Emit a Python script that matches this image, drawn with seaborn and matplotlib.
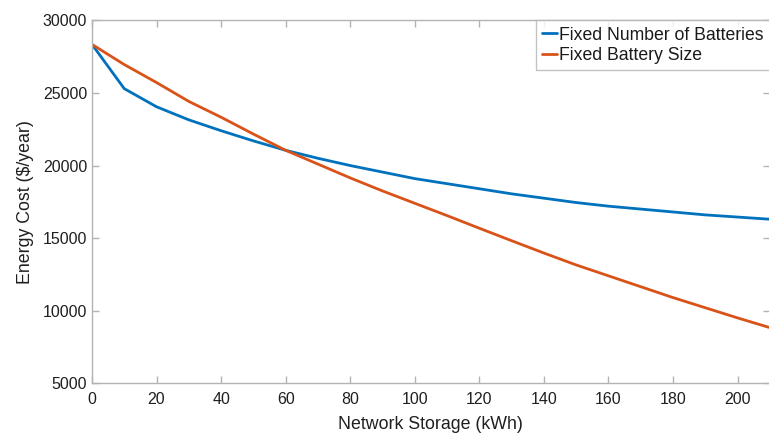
import numpy as np
import pandas as pd
import matplotlib
matplotlib.use("Agg")
import matplotlib.pyplot as plt
import seaborn as sns

storage_kwh = [0, 10, 20, 30, 40, 50, 60, 70, 80, 90, 100, 110, 120, 130, 140,
               150, 160, 170, 180, 190, 200, 210]
fixed_number = [28350, 25300, 24050, 23150, 22400, 21700, 21050, 20500, 20000,
                19550, 19100, 18750, 18400, 18050, 17750, 17450, 17200, 17000,
                16800, 16600, 16450, 16300]
fixed_size = [28350, 26960, 25720, 24420, 23330, 22170, 21050, 20100, 19150,
              18250, 17400, 16550, 15680, 14820, 13970, 13150, 12400, 11650,
              10900, 10200, 9500, 8830]
series_names = ["Fixed Number of Batteries", "Fixed Battery Size"]
x_ticks = [0, 20, 40, 60, 80, 100, 120, 140, 160, 180, 200]
y_ticks = [5000, 10000, 15000, 20000, 25000, 30000]

df = pd.DataFrame({
    "storage": storage_kwh * 2,
    "cost": fixed_number + fixed_size,
    "series": [series_names[0]] * len(storage_kwh) + [series_names[1]] * len(storage_kwh),
})

sns.set_theme(style="white")
plt.rcParams["font.family"] = ["Liberation Sans", "DejaVu Sans"]

fig = plt.figure(figsize=(7.69, 4.33), dpi=100)
ax = fig.add_axes([0.1196, 0.115, 0.8815, 0.8378])

sns.lineplot(data=df, x="storage", y="cost", hue="series",
             palette=["#0072BD", "#D95319"], linewidth=2.0, ax=ax,
             legend=True)

ax.set_xlim(0, 210)
ax.set_ylim(5000, 30000)
ax.set_xticks(x_ticks)
ax.set_yticks(y_ticks)
ax.set_xticklabels([str(t) for t in x_ticks])
ax.set_yticklabels([str(t) for t in y_ticks])

spine_color = "#b3b3b3"
for s in ax.spines.values():
    s.set_visible(True)
    s.set_color(spine_color)
    s.set_linewidth(1.0)
ax.tick_params(axis="both", which="both", direction="in", length=5,
               width=1.0, color=spine_color, labelsize=11.5, labelcolor="#1f1f1f",
               top=True, right=True, bottom=True, left=True)
ax.tick_params(axis="x", pad=6)
ax.tick_params(axis="y", pad=3.5)

ax.set_xlabel("Network Storage (kWh)", fontsize=12.8, color="#1f1f1f", labelpad=7)
ax.set_ylabel("Energy Cost (\\$/year)", fontsize=12.8, color="#1f1f1f", labelpad=6)

leg = ax.legend(loc="upper right", frameon=True, fontsize=12.7,
                handlelength=0.85, handletextpad=0.1, borderaxespad=0.0,
                borderpad=0.35, labelspacing=0.2, fancybox=False)
leg.get_frame().set_edgecolor(spine_color)
leg.get_frame().set_linewidth(1.0)
for t in leg.get_texts():
    t.set_color("#1a1a1a")

fig.savefig("out.png", dpi=100)
